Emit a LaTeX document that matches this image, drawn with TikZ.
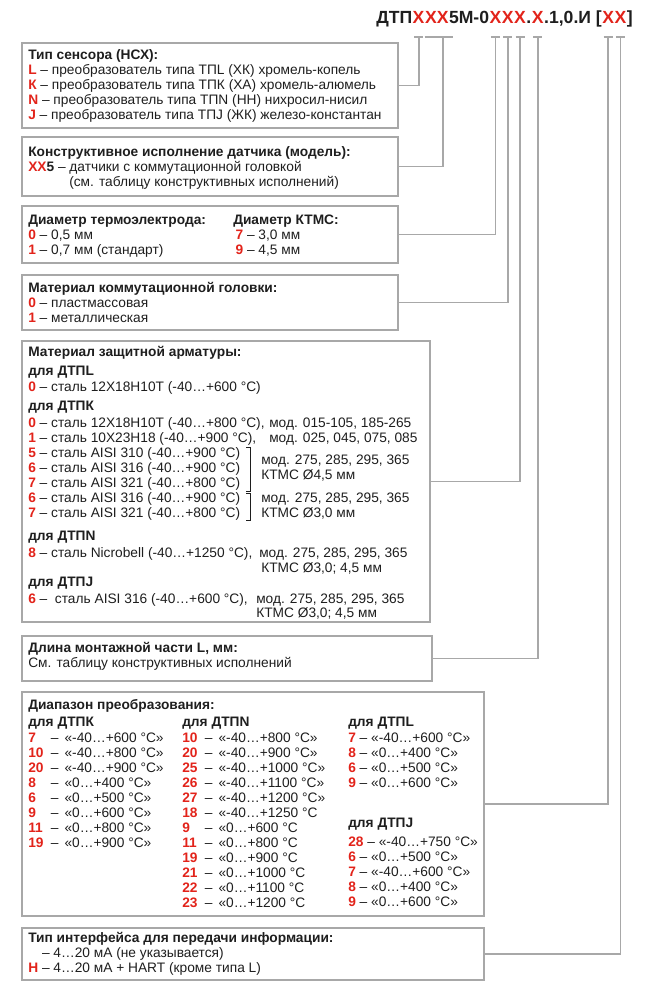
\documentclass[tikz,border=0pt]{standalone}
\usepackage{fontspec}
\setmainfont{Liberation Sans}
\usepackage{xcolor}
\usetikzlibrary{fit,calc}
\definecolor{dtred}{HTML}{E2231A}
\definecolor{boxgray}{HTML}{A8A8A8}
\definecolor{ink}{HTML}{1E1E1E}
\newcommand{\bodyfont}{\fontsize{10.3}{11.25}\selectfont}
\newcommand{\titlefont}{\fontsize{13.2}{16}\selectfont\bfseries}
\newcommand{\rnum}[1]{\textcolor{dtred}{\textbf{#1}}}
\newcommand{\rrow}[2]{\makebox[17pt][l]{\rnum{#1}}–\hspace{4.5pt}#2}

\begin{document}
\begin{tikzpicture}[
  x=0.75pt, y=-0.75pt,
  box/.style={draw=boxgray, line width=1.5pt, inner sep=0pt},
  txt/.style={anchor=north west, align=left, inner sep=0pt, font=\bodyfont, text=ink},
  ln/.style={anchor=base west, inner sep=0pt, font=\bodyfont, text=ink},
  ttl/.style={anchor=base west, inner sep=0pt, font=\titlefont, text=ink},
  link/.style={draw=boxgray, line width=1.4pt},
  brk/.style={draw=ink, line width=0.6pt}
]
\useasboundingbox (0,0) rectangle (650,1000);

% order code
\node[ttl] (t1) at (376,23) {ДТП};
\node[ttl, text=dtred] (x1) at (t1.base east) {X};
\node[ttl, text=dtred] (x2) at (x1.base east) {XX};
\node[ttl] (t2) at (x2.base east) {5М-0};
\node[ttl, text=dtred] (x3) at (t2.base east) {X};
\node[ttl, text=dtred] (x4) at (x3.base east) {X};
\node[ttl, text=dtred] (x5) at (x4.base east) {X};
\node[ttl] (t3) at (x5.base east) {.};
\node[ttl, text=dtred] (x6) at (t3.base east) {X};
\node[ttl] (t4) at (x6.base east) {.1,0.И [};
\node[ttl, text=dtred] (x7) at (t4.base east) {X};
\node[ttl, text=dtred] (x8) at (x7.base east) {X};
\node[ttl] (t5) at (x8.base east) {]};
\coordinate (tk) at (0,37);

% boxes
\node[box, fit={(22,43) (398,128)}] (sens) {};
\node[box, fit={(22,137) (398,196)}] (model) {};
\node[box, fit={(22,206) (398,263)}] (diam) {};
\node[box, fit={(22,275) (398,330)}] (head) {};
\node[box, fit={(22,341) (430,622)}] (arm) {};
\node[box, fit={(22,636) (432,681)}] (len) {};
\node[box, fit={(22,692) (484,916)}] (range) {};
\node[box, fit={(22,928) (484,980)}] (iface) {};

\node[txt] (sensT) at (28,49) {\strut\textbf{Тип сенсора (НСХ):}\\
  \rnum{L} – преобразователь типа ТПL (ХК) хромель-копель\\
  \rnum{К} – преобразователь типа ТПК (ХА) хромель-алюмель\\
  \rnum{N} – преобразователь типа ТПN (НН) нихросил-нисил\\
  \rnum{J} – преобразователь типа ТПJ (ЖК) железо-константан};

\node[txt] (modelT) at (28,146) {\strut\textbf{Конструктивное исполнение датчика (модель):}\\
  \rnum{XX}\textbf{5} – датчики с коммутационной головкой\\
  \hspace*{30.75pt}(см. таблицу конструктивных исполнений)};

\node[txt] (diamT) at (28,214) {\strut\textbf{Диаметр термоэлектрода:}\\
  \rnum{0} – 0,5 мм\\
  \rnum{1} – 0,7 мм (стандарт)};
\node[txt] (ktmsT) at (233,214) {\strut\textbf{Диаметр КТМС:}\\
  \,\rnum{7} – 3,0 мм\\
  \,\rnum{9} – 4,5 мм};

\node[txt] (headT) at (28,282) {\strut\textbf{Материал коммутационной головки:}\\
  \rnum{0} – пластмассовая\\
  \rnum{1} – металлическая};

\node[txt] (armT) at (28,346) {\strut\textbf{Материал защитной арматуры:}\\[3pt]
  \textbf{для ДТПL}\\[0.75pt]
  \rnum{0} – сталь 12Х18Н10Т (-40…+600 °С)\\[3pt]
  \textbf{для ДТПК}\\[1.5pt]
  \rnum{0} – сталь 12Х18Н10Т (-40…+800 °С),\\
  \rnum{1} – сталь 10Х23Н18 (-40…+900 °С),\\
  \rnum{5} – сталь AISI 310 (-40…+900 °С)\\
  \rnum{6} – сталь AISI 316 (-40…+900 °С)\\
  \rnum{7} – сталь AISI 321 (-40…+800 °С)\\
  \rnum{6} – сталь AISI 316 (-40…+900 °С)\\
  \rnum{7} – сталь AISI 321 (-40…+800 °С)\\[6pt]
  \textbf{для ДТПN}\\[1.5pt]
  \rnum{8} – сталь Nicrobell (-40…+1250 °С),\\[10.5pt]
  \textbf{для ДТПJ}\\[1.5pt]
  \rnum{6} –\ \ сталь AISI 316 (-40…+600 °С),};

\foreach \x/\y/\t [count=\i] in {
  269/427/{мод. 015-105, 185-265},
  269/442/{мод. 025, 045, 075, 085},
  261/464.5/{мод. 275, 285, 295, 365},
  261/479.5/{КТМС Ø4,5 мм},
  261/502/{мод. 275, 285, 295, 365},
  261/517/{КТМС Ø3,0 мм},
  259/557/{мод. 275, 285, 295, 365},
  261/572/{КТМС Ø3,0; 4,5 мм},
  256/603/{мод. 275, 285, 295, 365},
  256/617/{КТМС Ø3,0; 4,5 мм}}
  \node[ln] (mod\i) at (\x,\y) {\t};
\draw[brk] (246,447) -- (250,447) -- (250,491) -- (246,491);
\draw[brk] (246,493) -- (250,493) -- (250,520) -- (246,520);

\node[txt] (lenT) at (28,642) {\strut\textbf{Длина монтажной части L, мм:}\\
  См. таблицу конструктивных исполнений};

\node[txt] (rangeK) at (28,699) {\strut\textbf{Диапазон преобразования:}\\[1.5pt]
  \textbf{для ДТПК}\\[0.75pt]
  \rrow{7}{«-40…+600 °С»}\\
  \rrow{10}{«-40…+800 °С»}\\
  \rrow{20}{«-40…+900 °С»}\\
  \rrow{8}{«0…+400 °С»}\\
  \rrow{6}{«0…+500 °С»}\\
  \rrow{9}{«0…+600 °С»}\\
  \rrow{11}{«0…+800 °С»}\\
  \rrow{19}{«0…+900 °С»}};
\node[txt] (rangeN) at (182,716) {\strut\textbf{для ДТПN}\\[0.75pt]
  \rrow{10}{«-40…+800 °С»}\\
  \rrow{20}{«-40…+900 °С»}\\
  \rrow{25}{«-40…+1000 °С»}\\
  \rrow{26}{«-40…+1100 °С»}\\
  \rrow{27}{«-40…+1200 °С»}\\
  \rrow{18}{«-40…+1250 °С}\\
  \rrow{9}{«0…+600 °С}\\
  \rrow{11}{«0…+800 °С}\\
  \rrow{19}{«0…+900 °С}\\
  \rrow{21}{«0…+1000 °С}\\
  \rrow{22}{«0…+1100 °С}\\
  \rrow{23}{«0…+1200 °С}};
\node[txt] (rangeL) at (348,716) {\strut\textbf{для ДТПL}\\[0.75pt]
  \rnum{7} – «-40…+600 °С»\\
  \rnum{8} – «0…+400 °С»\\
  \rnum{6} – «0…+500 °С»\\
  \rnum{9} – «0…+600 °С»\\[18.75pt]
  \textbf{для ДТПJ}\\[3pt]
  \rnum{28} – «-40…+750 °С»\\
  \rnum{6} – «0…+500 °С»\\
  \rnum{7} – «-40…+600 °С»\\
  \rnum{8} – «0…+400 °С»\\
  \rnum{9} – «0…+600 °С»};

\node[txt] (ifaceT) at (28,932) {\strut\textbf{Тип интерфейса для передачи информации:}\\
  \phantom{\rnum{H}} – 4…20 мА (не указывается)\\
  \rnum{H} – 4…20 мА + HART (кроме типа L)};

% leaders from the code to the boxes
\foreach \c/\b in {x1/sens, x3/diam, x4/head, x5/arm, x6/len, x7/range, x8/iface} {
  \draw[link] ([xshift=1.2pt]\c.south west |- tk) -- ([xshift=-1.2pt]\c.south east |- tk);
  \draw[link] (\c.south |- tk) |- (\b.east);
}
\draw[link] (x2.south west |- tk) -- ([xshift=3pt]x2.south east |- tk);
\draw[link] ([xshift=-4.5pt]x2.south east |- tk) |- (model.east);
\end{tikzpicture}
\end{document}
